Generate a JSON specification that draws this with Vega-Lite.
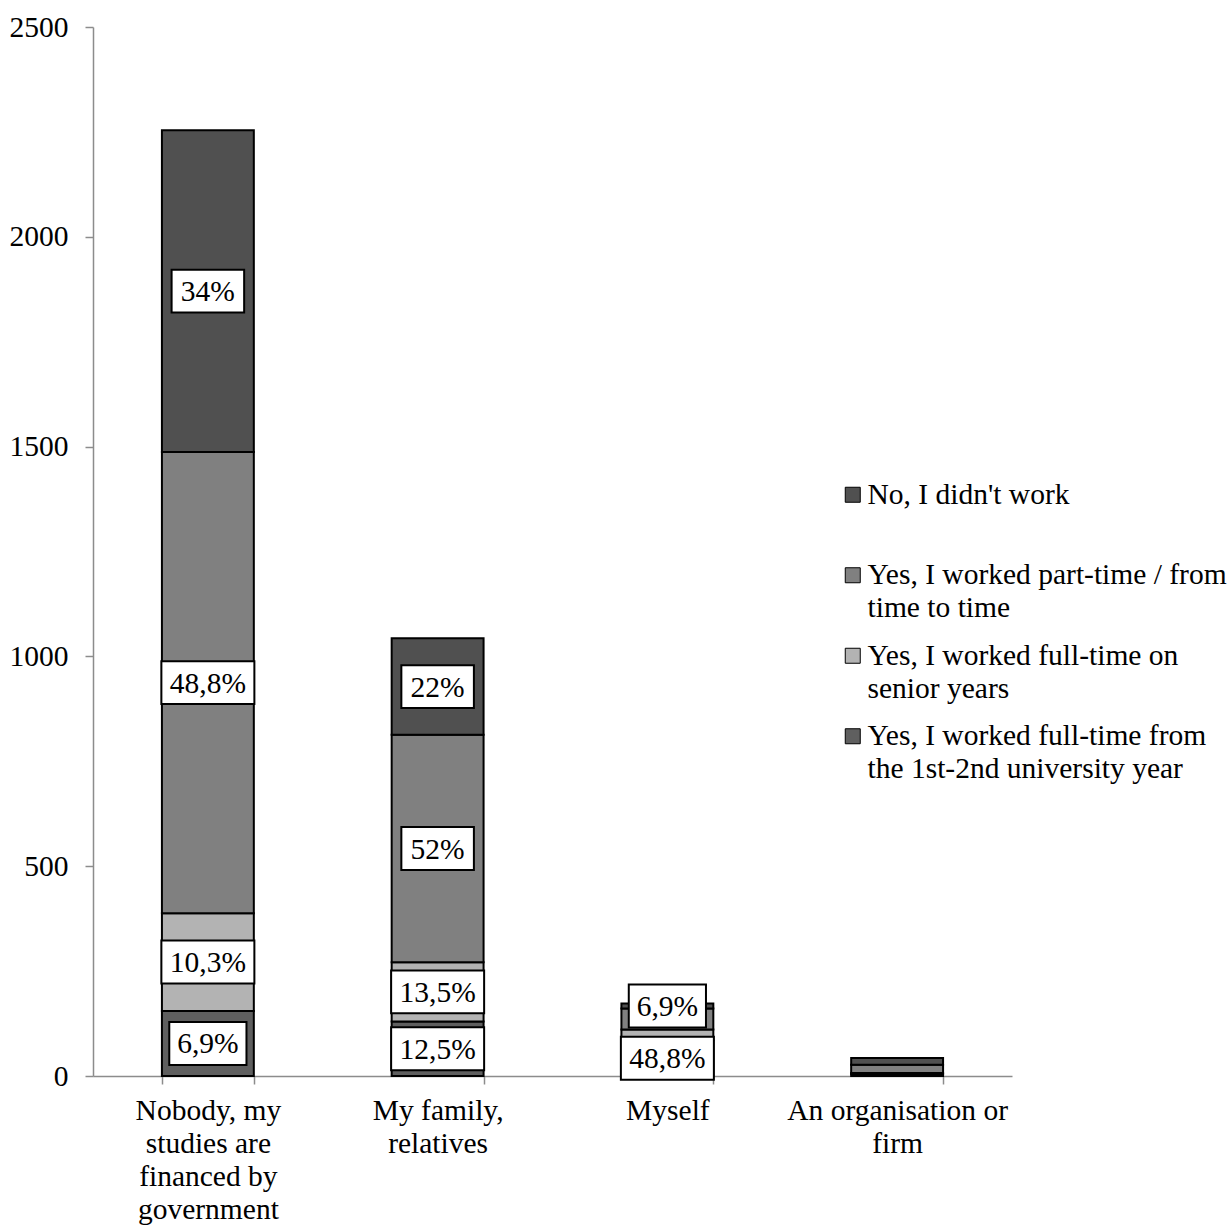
{
  "$schema": "https://vega.github.io/schema/vega-lite/v6.json",
  "width": 919,
  "height": 1049,
  "autosize": {"type": "none"},
  "padding": {"left": 93, "top": 27, "right": 218, "bottom": 149},
  "background": "white",
  "config": {
    "view": {"stroke": null},
    "font": "Liberation Serif",
    "axis": {"grid": false, "labelFont": "Liberation Serif", "labelFontSize": 29.5, "labelColor": "black", "domainColor": "#8c8c8c", "tickColor": "#8c8c8c", "domainWidth": 1.5, "tickWidth": 1.5, "title": null}
  },
  "data": {
    "values": [
      {"cat": "Nobody, my studies are financed by government", "series": "Yes, I worked full-time from the 1st-2nd university year", "value": 155, "label": "6,9%"},
      {"cat": "Nobody, my studies are financed by government", "series": "Yes, I worked full-time on senior years", "value": 233, "label": "10,3%"},
      {"cat": "Nobody, my studies are financed by government", "series": "Yes, I worked part-time / from time to time", "value": 1099, "label": "48,8%"},
      {"cat": "Nobody, my studies are financed by government", "series": "No, I didn't work", "value": 767, "label": "34%"},
      {"cat": "My family, relatives", "series": "Yes, I worked full-time from the 1st-2nd university year", "value": 130, "label": "12,5%"},
      {"cat": "My family, relatives", "series": "Yes, I worked full-time on senior years", "value": 141, "label": "13,5%"},
      {"cat": "My family, relatives", "series": "Yes, I worked part-time / from time to time", "value": 542, "label": "52%"},
      {"cat": "My family, relatives", "series": "No, I didn't work", "value": 230, "label": "22%"},
      {"cat": "Myself", "series": "Yes, I worked full-time from the 1st-2nd university year", "value": 85, "label": "48,8%"},
      {"cat": "Myself", "series": "Yes, I worked full-time on senior years", "value": 26, "label": ""},
      {"cat": "Myself", "series": "Yes, I worked part-time / from time to time", "value": 50, "label": ""},
      {"cat": "Myself", "series": "No, I didn't work", "value": 12, "label": "6,9%"},
      {"cat": "An organisation or firm", "series": "Yes, I worked full-time from the 1st-2nd university year", "value": 4, "label": ""},
      {"cat": "An organisation or firm", "series": "Yes, I worked full-time on senior years", "value": 3, "label": ""},
      {"cat": "An organisation or firm", "series": "Yes, I worked part-time / from time to time", "value": 20, "label": ""},
      {"cat": "An organisation or firm", "series": "No, I didn't work", "value": 16, "label": ""}
    ]
  },
  "transform": [
    {"calculate": "indexof(['No, I didn\\u0027t work', 'Yes, I worked part-time / from time to time', 'Yes, I worked full-time on senior years', 'Yes, I worked full-time from the 1st-2nd university year'], datum.series)", "as": "ord"},
    {"stack": "value", "groupby": ["cat"], "sort": [{"field": "ord", "order": "descending"}], "as": ["v0", "v1"]},
    {"calculate": "(datum.v0 + datum.v1) / 2", "as": "mid"}
  ],
  "encoding": {
    "x": {
      "field": "cat", "type": "nominal", "sort": null,
      "scale": {"paddingInner": 0.6, "paddingOuter": 0.3},
      "axis": {
        "labelAngle": 0, "tickBand": "extent", "tickSize": 8, "labelPadding": 12, "labelLineHeight": 33.3, "labelBaseline": "top", "labelLimit": 400,
        "labelExpr": "datum.value == 'Nobody, my studies are financed by government' ? ['Nobody, my', 'studies are', 'financed by', 'government'] : datum.value == 'My family, relatives' ? ['My family,', 'relatives'] : datum.value == 'An organisation or firm' ? ['An organisation or', 'firm'] : datum.value"
      }
    }
  },
  "layer": [
    {
      "mark": {"type": "bar", "stroke": "black", "strokeWidth": 2},
      "encoding": {
        "y": {"field": "v0", "type": "quantitative", "scale": {"domain": [0, 2500], "nice": false}, "axis": {"values": [0, 500, 1000, 1500, 2000, 2500], "format": "d", "tickSize": 8, "labelPadding": 17}},
        "y2": {"field": "v1"},
        "color": {
          "field": "series", "type": "nominal",
          "scale": {
            "domain": ["No, I didn't work", "Yes, I worked part-time / from time to time", "Yes, I worked full-time on senior years", "Yes, I worked full-time from the 1st-2nd university year"],
            "range": ["#505050", "#808080", "#b3b3b3", "#5f5f5f"]
          },
          "legend": {
            "orient": "none", "legendX": 745, "legendY": 453, "title": null, "padding": 0,
            "symbolType": "square", "symbolSize": 225, "symbolStrokeColor": "black", "symbolStrokeWidth": 1, "symbolOpacity": 1,
            "labelFont": "Liberation Serif", "labelFontSize": 29.5, "labelColor": "black", "labelLimit": 400, "labelOffset": 0,
            "rowPadding": 16.5,
            "labelExpr": "datum.value == 'No, I didn\\u0027t work' ? ['No, I didn\\u0027t work', ' '] : datum.value == 'Yes, I worked part-time / from time to time' ? ['Yes, I worked part-time / from', 'time to time'] : datum.value == 'Yes, I worked full-time on senior years' ? ['Yes, I worked full-time on', 'senior years'] : ['Yes, I worked full-time from', 'the 1st-2nd university year']",
            "encode": {"labels": {"update": {"lineHeight": {"value": 33}}}}
          }
        }
      }
    },
    {
      "transform": [{"filter": "datum.label != ''"}],
      "mark": {"type": "point", "filled": true, "fill": "white", "stroke": "black", "strokeWidth": 2, "opacity": 1, "size": 8649},
      "encoding": {
        "y": {"field": "mid", "type": "quantitative"},
        "shape": {
          "condition": [
            {"test": "length(datum.label) >= 5", "value": "M-1,-0.462H1V0.462H-1Z"},
            {"test": "length(datum.label) == 4", "value": "M-0.83,-0.462H0.83V0.462H-0.83Z"}
          ],
          "value": "M-0.78,-0.462H0.78V0.462H-0.78Z"
        }
      }
    },
    {
      "transform": [{"filter": "datum.label != ''"}],
      "mark": {"type": "text", "font": "Liberation Serif", "fontSize": 29.5, "color": "black", "baseline": "middle", "dy": 1},
      "encoding": {
        "y": {"field": "mid", "type": "quantitative"},
        "text": {"field": "label"}
      }
    }
  ]
}
